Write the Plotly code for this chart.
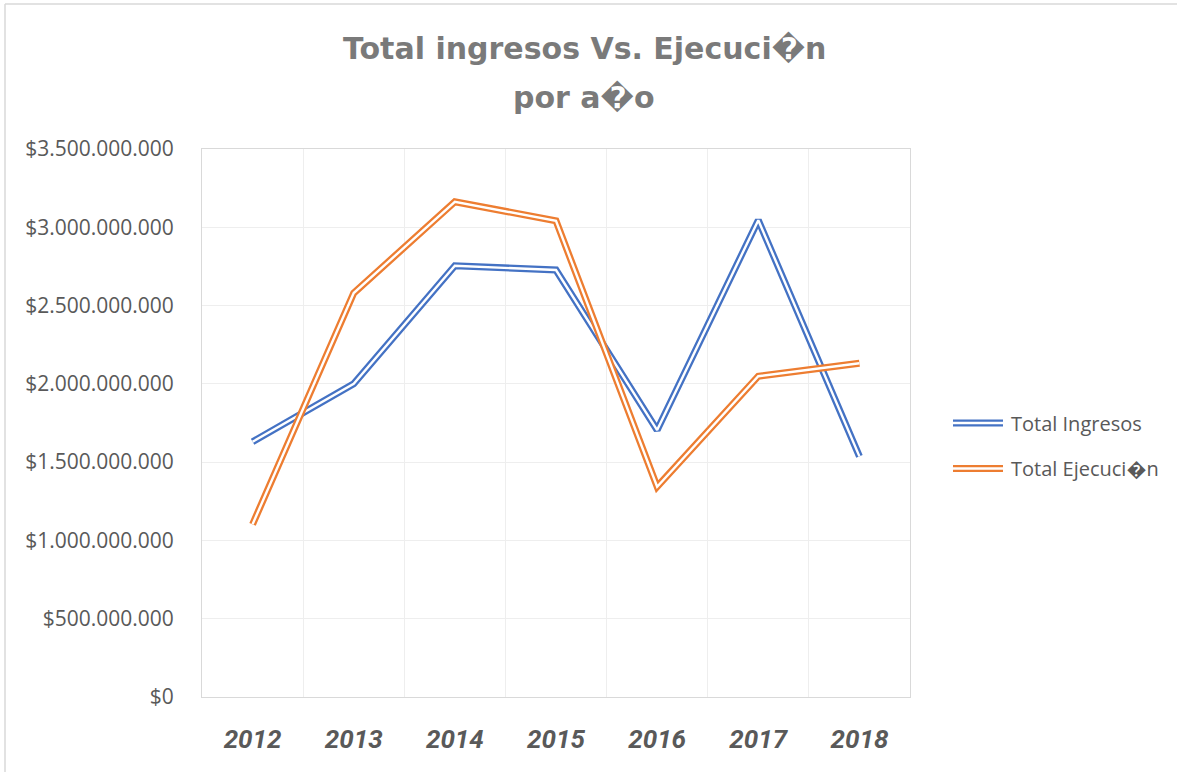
import plotly.graph_objects as go

years = ["2012", "2013", "2014", "2015", "2016", "2017", "2018"]
total_ingresos = [1.630e9, 2.000e9, 2.754e9, 2.727e9, 1.705e9, 3.045e9, 1.537e9]
total_ejecucion = [1.103e9, 2.580e9, 3.163e9, 3.041e9, 1.343e9, 2.049e9, 2.132e9]
y_ticks = [0, 5e8, 1e9, 1.5e9, 2e9, 2.5e9, 3e9, 3.5e9]
y_tick_text = ["$" + f"{int(v):,}".replace(",", ".") for v in y_ticks]

series_names = ["Total Ingresos", "Total Ejecuci\ufffdn"]
title_lines = ["Total ingresos Vs. Ejecuci\ufffdn", "por a\ufffdo"]

BLUE = "#4472C4"
ORANGE = "#ED7D31"
W, H = 1177, 772
L, R, T, B = 202, 910, 149, 697

fig = go.Figure()
for name, vals, col in [(series_names[0], total_ingresos, BLUE),
                        (series_names[1], total_ejecucion, ORANGE)]:
    fig.add_trace(go.Scatter(x=years, y=vals, mode="lines", name=name,
                             line=dict(color=col, width=7), showlegend=False))
    fig.add_trace(go.Scatter(x=years, y=vals, mode="lines", name=name + " (inner)",
                             line=dict(color="white", width=2.4), showlegend=False,
                             hoverinfo="skip"))

def px_x(px):
    return (px - L) / (R - L)

def px_y(py):
    return (B - py) / (B - T)

shapes = []
annotations = []
# manual legend with double-line symbols
for i, (name, col) in enumerate(zip(series_names, [BLUE, ORANGE])):
    cy = 423 + i * 45.5
    for w, c in [(7, col), (2.4, "white")]:
        shapes.append(dict(type="line", xref="paper", yref="paper",
                           x0=px_x(953), x1=px_x(1003), y0=px_y(cy), y1=px_y(cy),
                           line=dict(color=c, width=w), layer="above"))
    annotations.append(dict(text=name, xref="paper", yref="paper",
                            x=px_x(1009), y=px_y(cy), xanchor="left", yanchor="middle",
                            showarrow=False,
                            font=dict(family="Open Sans", size=20, color="#595959")))

# outer chart border (left and top visible)
shapes.append(dict(type="line", xref="paper", yref="paper",
                   x0=px_x(5), x1=px_x(5), y0=px_y(772), y1=px_y(4),
                   line=dict(color="#d9d9d9", width=1.5)))
shapes.append(dict(type="line", xref="paper", yref="paper",
                   x0=px_x(5), x1=px_x(1177), y0=px_y(4), y1=px_y(4),
                   line=dict(color="#d9d9d9", width=1.5)))

# title lines
for txt, cy in [(title_lines[0], 49), (title_lines[1], 97)]:
    annotations.append(dict(text="<b>" + txt + "</b>", xref="paper", yref="paper",
                            x=px_x(584), y=px_y(cy), xanchor="center", yanchor="middle",
                            showarrow=False,
                            font=dict(family="DejaVu Sans", size=30, color="#7a7a7a")))

fig.update_layout(
    width=W, height=H,
    margin=dict(l=L, r=W - R, t=T, b=H - B, pad=0),
    paper_bgcolor="white", plot_bgcolor="white",
    shapes=shapes, annotations=annotations,
    showlegend=False,
)
fig.update_xaxes(type="category", tickson="boundaries", showgrid=True,
                 gridcolor="#eeeeee", gridwidth=1,
                 showline=True, linecolor="#d9d9d9", linewidth=1, mirror=True,
                 ticks="", ticklabelstandoff=19, range=[-0.5, 6.5],
                 tickfont=dict(family="Roboto", size=26, color="#595959",
                               weight="bold", style="italic"))
fig.update_yaxes(range=[0, 3.5e9], tickvals=y_ticks, ticktext=y_tick_text,
                 showgrid=True, gridcolor="#eeeeee", gridwidth=1, zeroline=False,
                 showline=True, linecolor="#d9d9d9", linewidth=1, mirror=True,
                 ticks="", ticklabelstandoff=23,
                 tickfont=dict(family="Open Sans", size=21, color="#595959"))

fig.write_html("out.html", config={"displayModeBar": False},
               post_script="document.body.style.margin='0';document.body.style.padding='0';")
